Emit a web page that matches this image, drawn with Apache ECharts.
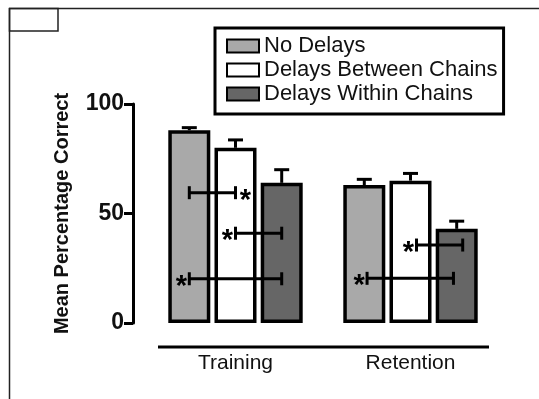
<!DOCTYPE html>
<html>
<head>
<meta charset="utf-8">
<script src="https://cdn.jsdelivr.net/npm/echarts@6/dist/echarts.min.js"></script>
<style>html,body{margin:0;padding:0;background:#fff;}#c{width:539px;height:399px;}</style>
</head>
<body>
<div id="c"></div>
<script>
const categories = ['Training', 'Retention'];
const seriesNames = ['No Delays', 'Delays Between Chains', 'Delays Within Chains'];
const noDelays = [88, 63];
const noDelaysErr = [1.2, 2.6];
const betweenChains = [80, 65];
const betweenChainsErr = [3.6, 3.3];
const withinChains = [64, 43];
const withinChainsErr = [6, 3.5];
const yTicks = [0, 50, 100];
// significance brackets: [categoryIndex, fromBarPos, toBarPos, yValue, starSide (-1 left, 1 right)]
const brackets = [
  [0, 0, 1, 59.5, 1],
  [0, 1, 2, 41, -1],
  [0, 0, 2, 20.2, -1],
  [1, 1.13, 2.13, 35.6, -1],
  [1, 0.06, 1.93, 20.4, -1]
];

const FONT = 'Liberation Sans, Arial, Helvetica, sans-serif';
const BAR_W = 42;
const BAR_GAP = 0.1;
const SPACING = BAR_W * (1 + BAR_GAP);
const colors = ['#a9a9a9', '#ffffff', '#666666'];

const values = [noDelays, betweenChains, withinChains];
const errs = [noDelaysErr, betweenChainsErr, withinChainsErr];

const errData = [];
values.forEach((vals, s) => vals.forEach((v, c) => errData.push([c, v, errs[s][c], s])));

const chart = echarts.init(document.getElementById('c'), null, {renderer: 'canvas'});

const barSeries = seriesNames.map((name, s) => ({
  name: name,
  type: 'bar',
  data: values[s],
  barWidth: BAR_W,
  barGap: (BAR_GAP * 100) + '%',
  itemStyle: {color: colors[s], borderColor: '#000', borderWidth: 3.5},
  emphasis: {disabled: true},
  z: 2
}));

const option = {
  animation: false,
  textStyle: {fontFamily: FONT},
  grid: {left: 148, right: 41, top: 104, bottom: 76},
  legend: {
    orient: 'vertical',
    left: 215, top: 28,
    padding: [7, 6, 9, 11],
    borderColor: '#000', borderWidth: 3,
    itemWidth: 32, itemHeight: 13,
    itemGap: 2,
    itemTextGap: 6,
    icon: 'rect',
    textStyle: {fontSize: 22, color: '#111', fontFamily: FONT, lineHeight: 22},
    data: seriesNames
  },
  xAxis: {
    type: 'category',
    data: categories,
    axisLine: {show: false},
    axisTick: {show: false},
    axisLabel: {fontSize: 21, color: '#111', margin: 30, fontFamily: FONT}
  },
  yAxis: {
    type: 'value',
    min: yTicks[0], max: yTicks[yTicks.length - 1], interval: 50,
    offset: 15,
    name: 'Mean Percentage Correct',
    nameLocation: 'middle',
    nameGap: 61,
    nameRotate: 90,
    nameTextStyle: {fontSize: 20, fontWeight: 'bold', color: '#111', fontFamily: FONT},
    axisLine: {show: true, lineStyle: {color: '#000', width: 3}},
    axisTick: {show: true, length: 9, lineStyle: {color: '#000', width: 3}},
    axisLabel: {fontSize: 23, fontWeight: 'bold', color: '#111', margin: 9, fontFamily: FONT},
    splitLine: {show: false}
  },
  series: barSeries.concat([
    {
      type: 'custom',
      name: 'errors',
      data: errData,
      z: 3,
      clip: false,
      renderItem: function (params, api) {
        const c = api.value(0), v = api.value(1), e = api.value(2), s = api.value(3);
        const base = api.coord([c, v]);
        const top = api.coord([c, v + e]);
        const x = base[0] + (s - 1) * SPACING;
        const style = {stroke: '#000', lineWidth: 3};
        return {
          type: 'group',
          children: [
            {type: 'line', shape: {x1: x, y1: base[1], x2: x, y2: top[1]}, style: style},
            {type: 'line', shape: {x1: x - 7.5, y1: top[1], x2: x + 7.5, y2: top[1]}, style: style}
          ]
        };
      }
    },
    {
      type: 'custom',
      name: 'brackets',
      data: brackets,
      z: 4,
      clip: false,
      renderItem: function (params, api) {
        const c = api.value(0), a = api.value(1), b = api.value(2), v = api.value(3), side = api.value(4);
        const p = api.coord([c, v]);
        const x1 = p[0] + (a - 1) * SPACING;
        const x2 = p[0] + (b - 1) * SPACING;
        const y = p[1];
        const style = {stroke: '#000', lineWidth: 3};
        const sx = side > 0 ? x2 + 10 : x1 - 8;
        return {
          type: 'group',
          children: [
            {type: 'line', shape: {x1: x1, y1: y, x2: x2, y2: y}, style: style},
            {type: 'line', shape: {x1: x1, y1: y - 6.5, x2: x1, y2: y + 6.5}, style: style},
            {type: 'line', shape: {x1: x2, y1: y - 6.5, x2: x2, y2: y + 6.5}, style: style},
            {type: 'text', style: {text: '*', x: sx, y: y + 8, align: 'center', verticalAlign: 'middle', fontSize: 29, fontWeight: 'bold', fill: '#000', fontFamily: FONT}}
          ]
        };
      }
    }
  ]),
  graphic: [
    {type: 'line', shape: {x1: 158, y1: 347, x2: 489, y2: 347}, style: {stroke: '#000', lineWidth: 3}, z: 10},
    {type: 'line', shape: {x1: 9, y1: 8.5, x2: 539, y2: 8.5}, style: {stroke: '#222', lineWidth: 1.5}, z: 10},
    {type: 'line', shape: {x1: 9.5, y1: 8, x2: 9.5, y2: 399}, style: {stroke: '#222', lineWidth: 1.5}, z: 10},
    {type: 'rect', shape: {x: 9.5, y: 8.5, width: 48.5, height: 22.5}, style: {fill: 'none', stroke: '#222', lineWidth: 1.5}, z: 10}
  ]
};
chart.setOption(option);
</script>
</body>
</html>
